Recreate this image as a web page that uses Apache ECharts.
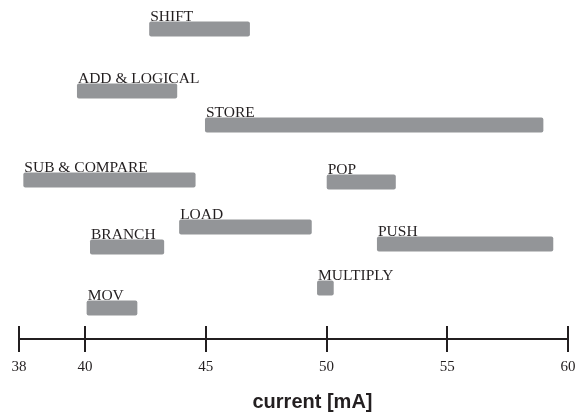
<!DOCTYPE html>
<html>
<head>
<meta charset="utf-8">
<script src="https://cdn.jsdelivr.net/npm/echarts@6/dist/echarts.min.js"></script>
<style>
  html, body { margin: 0; padding: 0; background: #fff; }
  #chart { width: 584px; height: 412px; }
</style>
</head>
<body>
<div id="chart"></div>
<script>
// instruction classes and their current ranges (mA)
var instructions = ['SHIFT', 'ADD & LOGICAL', 'STORE', 'SUB & COMPARE', 'POP', 'LOAD', 'BRANCH', 'PUSH', 'MULTIPLY', 'MOV'];
var minCurrent = [42.66, 39.67, 44.97, 37.45, 50.01, 43.90, 40.21, 52.09, 49.61, 40.07];
var maxCurrent = [46.83, 43.82, 58.98, 44.58, 52.87, 49.39, 43.28, 59.39, 50.30, 42.17];
// vertical lane of each bar (no meaning, just stacking in the figure)
var lanes = [31.0, 24.8, 21.4, 15.9, 15.7, 11.2, 9.2, 9.5, 5.1, 3.1];
// axis ticks; the first one is the axis break drawn as "38"
var tickValues = [37.27, 40, 45, 50, 55, 60];
var tickLabels = ['38', '40', '45', '50', '55', '60'];

var chart = echarts.init(document.getElementById('chart'));

var data = [];
for (var i = 0; i < instructions.length; i++) {
    data.push([minCurrent[i], maxCurrent[i], lanes[i]]);
}

function renderItem(params, api) {
    var start = api.coord([api.value(0), api.value(2)]);
    var end = api.coord([api.value(1), api.value(2)]);
    var h = 15;
    var top = start[1] - h / 2;
    return {
        type: 'group',
        children: [
            {
                type: 'rect',
                shape: { x: start[0], y: top, width: end[0] - start[0], height: h, r: 2 },
                style: { fill: '#939598' }
            },
            {
                type: 'text',
                style: {
                    text: instructions[params.dataIndex],
                    x: start[0] + 1,
                    y: top + 3,
                    verticalAlign: 'bottom',
                    font: '15.5px "Liberation Serif"',
                    fill: '#231f20'
                }
            }
        ]
    };
}

var axisColor = '#231f20';

var option = {
    animation: false,
    grid: { left: 19, right: 16, top: 9, bottom: 73, containLabel: false, outerBoundsMode: 'none' },
    xAxis: [
        {
            type: 'value',
            min: tickValues[0],
            max: 60,
            position: 'bottom',
            name: 'current [mA]',
            nameLocation: 'middle',
            nameGap: 53,
            nameTextStyle: {
                fontFamily: '"Liberation Sans"',
                fontWeight: 'bold',
                fontSize: 20,
                color: '#231f20',
                padding: [0, 0, 0, 38]
            },
            axisLine: { show: true, lineStyle: { color: axisColor, width: 2 } },
            axisTick: { show: true, customValues: tickValues, length: 13, lineStyle: { color: axisColor, width: 2 } },
            axisLabel: {
                customValues: tickValues,
                margin: 21,
                fontFamily: '"Liberation Serif"',
                fontSize: 15,
                color: '#231f20',
                formatter: function (v) {
                    var k = tickValues.indexOf(v);
                    return k >= 0 ? tickLabels[k] : '';
                }
            },
            splitLine: { show: false }
        },
        {
            // second axis only to draw the upper half of the ticks
            type: 'value',
            min: tickValues[0],
            max: 60,
            position: 'bottom',
            axisLine: { show: false },
            axisTick: { show: true, inside: true, customValues: tickValues, length: 13, lineStyle: { color: axisColor, width: 2 } },
            axisLabel: { show: false },
            splitLine: { show: false }
        }
    ],
    yAxis: {
        type: 'value',
        min: 0,
        max: 33,
        show: false
    },
    series: [
        {
            type: 'custom',
            xAxisIndex: 0,
            renderItem: renderItem,
            encode: { x: [0, 1], y: 2 },
            data: data
        }
    ]
};

chart.setOption(option);
</script>
</body>
</html>
